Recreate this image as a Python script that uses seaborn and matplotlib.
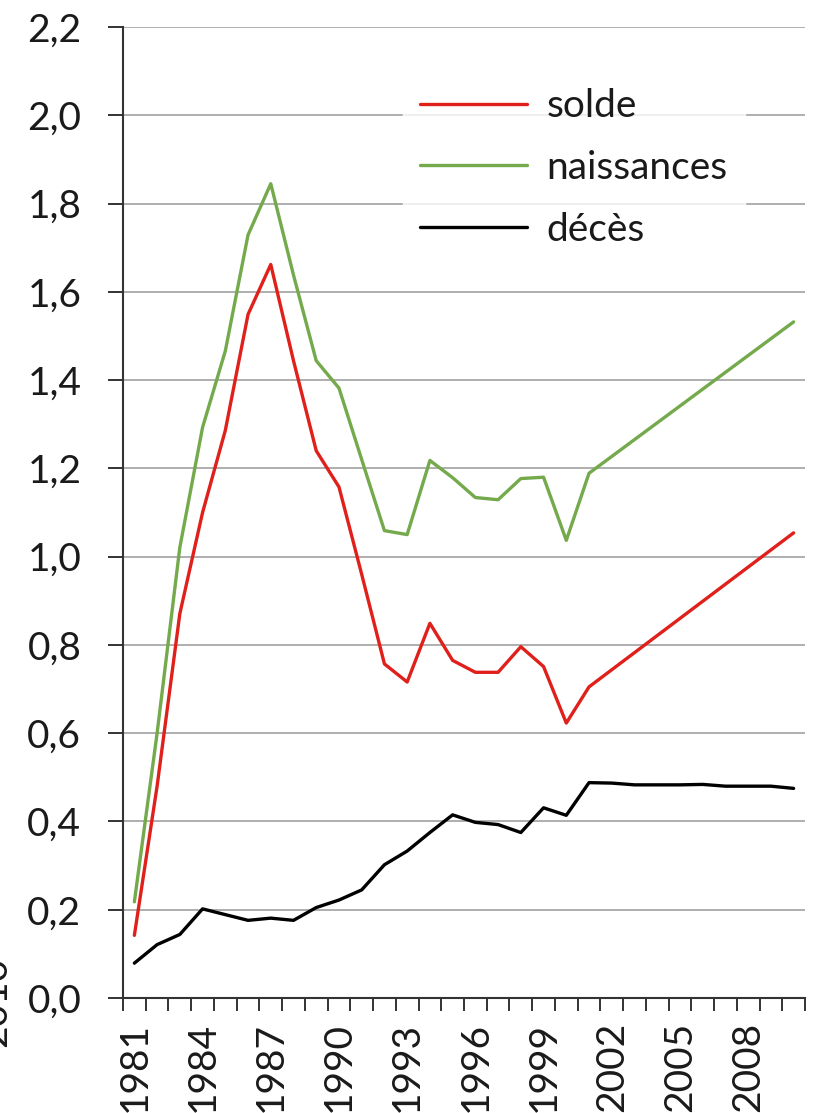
import pandas as pd
import seaborn as sns
import matplotlib.pyplot as plt
from matplotlib.ticker import FuncFormatter

# ============================================================
# DATA
# ============================================================
years = list(range(1981, 2011))

# solde and naissances have no values between 2002 and 2009
solde = [0.142, 0.48, 0.871, 1.10, 1.286, 1.549, 1.662, 1.444, 1.24, 1.158,
         0.96, 0.757, 0.716, 0.849, 0.765, 0.738, 0.738, 0.796, 0.751, 0.623,
         0.705] + [None] * 8 + [1.054]
naissances = [0.218, 0.60, 1.021, 1.293, 1.466, 1.729, 1.845, 1.638, 1.444, 1.382,
              1.22, 1.059, 1.050, 1.218, 1.179, 1.134, 1.129, 1.177, 1.180, 1.037,
              1.189] + [None] * 8 + [1.532]
deces = [0.079, 0.121, 0.144, 0.202, 0.189, 0.176, 0.181, 0.176, 0.205, 0.222,
         0.245, 0.302, 0.333, 0.375, 0.415, 0.398, 0.393, 0.375, 0.431, 0.414,
         0.488, 0.487, 0.483, 0.483, 0.483, 0.484, 0.480, 0.480, 0.480, 0.475]

series_names = ["solde", "naissances", "décès"]
colors = {"solde": "#e0201b", "naissances": "#74a94c", "décès": "#000000"}

y_ticks = [0.0, 0.2, 0.4, 0.6, 0.8, 1.0, 1.2, 1.4, 1.6, 1.8, 2.0, 2.2]
x_labels = list(range(1981, 2009, 3))

# long-form table, missing years dropped so lines join the known points
df = pd.DataFrame({"année": years, "solde": solde,
                   "naissances": naissances, "décès": deces})
long_df = df.melt(id_vars="année", var_name="série", value_name="valeur").dropna()

# ============================================================
# PLOT
# ============================================================
sns.set_theme(style="white")
plt.rcParams["font.family"] = ["Lato", "DejaVu Sans"]
FS = 28

fig = plt.figure(figsize=(8.2, 11.13), dpi=100)
ax = fig.add_axes([0.15, 0.1033, 0.8317, 0.8724])

sns.lineplot(data=long_df, x="année", y="valeur", hue="série",
             hue_order=series_names, palette=colors, linewidth=2.4,
             ax=ax, legend=True)

ax.set_xlim(1980.5, 2010.5)
ax.set_ylim(0, 2.2)
ax.set_xlabel("")
ax.set_ylabel("")

# y axis
ax.set_yticks(y_ticks)
ax.yaxis.set_major_formatter(FuncFormatter(lambda v, p: f"{v:.1f}".replace(".", ",")))
ax.yaxis.grid(True, color="#a8a8a8", linewidth=1.3)
ax.xaxis.grid(False)
ax.set_axisbelow(True)
ax.tick_params(axis="y", which="major", left=True, length=11, width=1.4,
               color="#333333", pad=19, labelsize=FS, labelcolor="#1a1a1a")

# x axis: tick marks between categories, labels at category centres
ax.set_xticks([y - 0.5 for y in years] + [years[-1] + 0.5])
ax.set_xticklabels([])
ax.tick_params(axis="x", which="major", bottom=True, length=9, width=1.4,
               color="#333333")
ax.set_xticks(x_labels, minor=True)
ax.set_xticklabels([str(y) for y in x_labels], minor=True, rotation=90,
                   fontsize=FS, color="#1a1a1a")
ax.tick_params(axis="x", which="minor", bottom=True, length=0, pad=17)

for side in ["top", "right"]:
    ax.spines[side].set_visible(False)
for side in ["left", "bottom"]:
    ax.spines[side].set_color("#333333")
    ax.spines[side].set_linewidth(1.5)

leg = ax.legend(loc="upper left", bbox_to_anchor=(0.41, 0.955), frameon=True,
                fontsize=FS, handlelength=2.75, handletextpad=0.5,
                labelspacing=0.66, borderpad=0.45, borderaxespad=0)
leg.get_frame().set_facecolor("white")
leg.get_frame().set_edgecolor("white")
for line in leg.get_lines():
    line.set_linewidth(2.4)
for t in leg.get_texts():
    t.set_color("#1a1a1a")

# piece of the neighbouring chart cut at the left edge
fig.text(-0.006, 0.10, "2010", rotation=90, fontsize=FS, color="#1a1a1a",
         ha="center", va="center")

fig.savefig("out.png", dpi=100)
